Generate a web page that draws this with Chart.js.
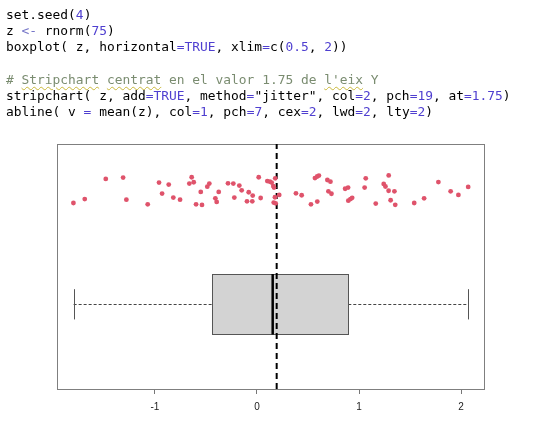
<!DOCTYPE html>
<html>
<head>
<meta charset="utf-8">
<script src="https://cdn.jsdelivr.net/npm/chart.js@4"></script>
<style>
  body { margin: 0; background: #fff; width: 537px; height: 442px; overflow: hidden; position: relative; }
  #code {
    position: absolute; left: 6px; top: 7px; margin: 0; z-index: 2;
    font-family: "DejaVu Sans Mono", monospace; font-size: 12.9px; line-height: 16.2px; color: #000;
  }
  .n { color: #4f3fd0; }
  .op { color: #7676c8; }
  .c { color: #7a8c70; }
  .sp { text-decoration: underline wavy #c9b83a; text-decoration-thickness: 1px; text-underline-offset: 2px; }
  #wrap { position: absolute; left: 0; top: 0; width: 537px; height: 442px; }
</style>
</head>
<body>
<pre id="code">set.seed(<span class="n">4</span>)
z <span class="op">&lt;-</span> rnorm(<span class="n">75</span>)
boxplot( z, horizontal<span class="n">=TRUE</span>, xlim<span class="n">=</span>c(<span class="n">0.5</span>, <span class="n">2</span>))

<span class="c"># <span class="sp">Stripchart</span> <span class="sp">centrat</span> en el valor 1.75 de <span class="sp">l'eix</span> Y</span>
stripchart( z, add<span class="n">=TRUE</span>, method<span class="n">=</span>"jitter", col<span class="n">=2</span>, pch<span class="n">=19</span>, at<span class="n">=1.75</span>)
abline( v <span class="n">=</span> mean(z), col<span class="n">=1</span>, pch<span class="n">=7</span>, cex<span class="n">=2</span>, lwd<span class="n">=2</span>, lty<span class="n">=2</span>)</pre>
<div id="wrap"><canvas id="chart" width="537" height="442"></canvas></div>
<script>
// values
const zValues = [
  -1.799, -1.688, -1.482, -1.312, -1.280, -1.071, -0.960, -0.930, -0.865, -0.820,
  -0.754, -0.640, -0.663, -0.620, -0.597, -0.539, -0.551, -0.487, -0.467, -0.408,
  -0.395, -0.375, -0.284, -0.232, -0.222, -0.173, -0.150, -0.098, -0.081, -0.042,
  -0.046, 0.017, 0.036, 0.101, 0.127, 0.144, 0.160, 0.167, 0.179, 0.176,
  0.164, 0.183, 0.218, 0.382, 0.438, 0.529, 0.591, 0.568, 0.590, 0.607,
  0.690, 0.720, 0.700, 0.730, 0.864, 0.893, 0.895, 0.916, 0.933, 1.066,
  1.055, 1.164, 1.291, 1.242, 1.259, 1.290, 1.347, 1.310, 1.355, 1.541,
  1.638, 1.778, 1.898, 1.974, 2.070
];
// jittered heights around at=1.75
const jitterY = [
  1.670, 1.696, 1.829, 1.838, 1.692, 1.661, 1.805, 1.732, 1.792, 1.706,
  1.692, 1.840, 1.798, 1.807, 1.661, 1.657, 1.743, 1.778, 1.798, 1.701,
  1.677, 1.743, 1.800, 1.798, 1.706, 1.785, 1.754, 1.681, 1.741, 1.719,
  1.681, 1.840, 1.703, 1.815, 1.811, 1.805, 1.782, 1.772, 1.833, 1.708,
  1.673, 1.668, 1.723, 1.734, 1.721, 1.661, 1.679, 1.835, 1.845, 1.851,
  1.822, 1.811, 1.747, 1.731, 1.764, 1.772, 1.685, 1.696, 1.704, 1.833,
  1.772, 1.666, 1.852, 1.796, 1.779, 1.751, 1.747, 1.688, 1.658, 1.670,
  1.701, 1.808, 1.747, 1.723, 1.776
];
// whisker low, Q1, median, Q3, whisker high
const boxStats = [-1.797, -0.438, 0.154, 0.895, 2.07];
const boxAt = 1;
const meanZ = 0.193;
const tickValues = [-1, 0, 1, 2];
const xRange = [-1.96, 2.225];
const yRange = [0.44, 2.06];

const boxPlugin = {
  id: 'boxPlot',
  beforeDatasetsDraw(chart) {
    const { ctx, chartArea: a, scales: { x, y } } = chart;
    const [lo, q1, med, q3, hi] = boxStats.map(v => x.getPixelForValue(v));
    const yc = y.getPixelForValue(boxAt);
    const yt = y.getPixelForValue(boxAt + 0.2);
    const yb = y.getPixelForValue(boxAt - 0.2);
    const ct = y.getPixelForValue(boxAt + 0.1);
    const cb = y.getPixelForValue(boxAt - 0.1);
    ctx.save();
    // whiskers
    ctx.strokeStyle = '#444';
    ctx.lineWidth = 1;
    ctx.setLineDash([3, 2]);
    ctx.beginPath();
    ctx.moveTo(lo, Math.round(yc) + 0.5); ctx.lineTo(q1, Math.round(yc) + 0.5);
    ctx.moveTo(q3, Math.round(yc) + 0.5); ctx.lineTo(hi, Math.round(yc) + 0.5);
    ctx.stroke();
    ctx.setLineDash([]);
    ctx.strokeStyle = '#555';
    ctx.beginPath();
    ctx.moveTo(Math.round(lo) + 0.5, ct); ctx.lineTo(Math.round(lo) + 0.5, cb);
    ctx.moveTo(Math.round(hi) + 0.5, ct); ctx.lineTo(Math.round(hi) + 0.5, cb);
    ctx.stroke();
    // box
    ctx.fillStyle = '#d3d3d3';
    ctx.fillRect(q1, yt, q3 - q1, yb - yt);
    ctx.strokeStyle = '#555';
    ctx.strokeRect(Math.round(q1) + 0.5, Math.round(yt) + 0.5, Math.round(q3 - q1), Math.round(yb - yt));
    // median
    ctx.strokeStyle = '#000';
    ctx.lineWidth = 2.5;
    ctx.beginPath();
    ctx.moveTo(med, yt); ctx.lineTo(med, yb);
    ctx.stroke();
    // frame
    ctx.strokeStyle = '#7f7f7f';
    ctx.lineWidth = 1;
    ctx.strokeRect(Math.round(a.left) + 0.5, Math.round(a.top) + 0.5,
      Math.round(a.right - a.left), Math.round(a.bottom - a.top));
    ctx.restore();
  }
};

new Chart(document.getElementById('chart'), {
  type: 'scatter',
  data: {
    datasets: [
      {
        label: 'z',
        data: zValues.map((v, i) => ({ x: v, y: jitterY[i] })),
        backgroundColor: '#DF536B',
        borderWidth: 0,
        pointRadius: 2.4
      },
      {
        label: 'mean',
        type: 'line',
        data: [{ x: meanZ, y: yRange[0] }, { x: meanZ, y: yRange[1] }],
        borderColor: '#000',
        borderWidth: 2,
        borderDash: [6, 4],
        pointRadius: 0
      }
    ]
  },
  options: {
    responsive: false,
    animation: false,
    events: [],
    layout: { padding: { left: 57, right: 53, top: 144, bottom: 0 } },
    plugins: { legend: { display: false }, tooltip: { enabled: false } },
    scales: {
      x: {
        type: 'linear',
        min: xRange[0],
        max: xRange[1],
        afterBuildTicks: s => { s.ticks = tickValues.map(v => ({ value: v })); },
        afterFit: s => { s.height = 53; },
        border: { display: false },
        grid: { drawOnChartArea: false, drawTicks: true, tickLength: 5, color: '#777' },
        ticks: {
          padding: 7,
          color: '#222',
          font: { family: 'Liberation Sans, Arial', size: 10 },
          callback: v => String(v)
        }
      },
      y: { type: 'linear', min: yRange[0], max: yRange[1], display: false }
    }
  },
  plugins: [boxPlugin]
});
</script>
</body>
</html>
